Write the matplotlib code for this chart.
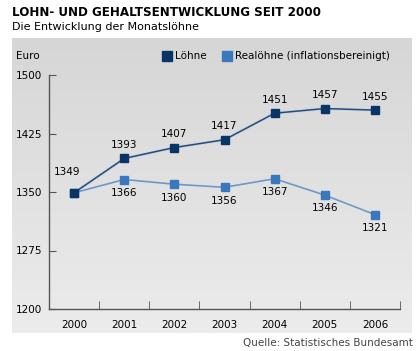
import matplotlib.pyplot as plt
import numpy as np

years = ["2000", "2001", "2002", "2003", "2004", "2005", "2006"]
loehne = [1349, 1393, 1407, 1417, 1451, 1457, 1455]
realloehne = [1349, 1366, 1360, 1356, 1367, 1346, 1321]
yticks = [1200, 1275, 1350, 1425, 1500]

dark = "#0b3466"
light = "#3a78bd"
W, H = 419, 351

fig = plt.figure(figsize=(W / 100, H / 100), dpi=100)
fig.patch.set_facecolor("white")

# gray panel with soft vertical gradient
bg = fig.add_axes([12 / W, 1 - 333 / H, (411 - 12) / W, (333 - 38) / H])
grad = np.linspace(0, 1, 256).reshape(-1, 1)
bg.imshow(grad, aspect="auto", cmap=plt.matplotlib.colors.LinearSegmentedColormap.from_list(
    "g", ["#d6d6d6", "#ececec"]), extent=[0, 1, 0, 1], origin="upper")
bg.set_axis_off()

ax = fig.add_axes([49 / W, 1 - 309 / H, (400 - 49) / W, (309 - 75) / H])
ax.patch.set_alpha(0)

x = np.arange(len(years))
ax.plot(x, loehne, color="#c8d4e4", lw=2.2, zorder=2)
ax.plot(x, loehne, color="#2a4a75", lw=1.1, zorder=3)
ax.plot(x, realloehne, color="#6f98c8", lw=1.2, zorder=3)
ax.plot(x, realloehne, "s", color=light, ms=6, zorder=4)
ax.plot(x, loehne, "s", color=dark, ms=6, zorder=5)

fs = 7.5
for i, v in enumerate(loehne):
    if i == 0:
        ax.annotate(str(v), (x[i], v), xytext=(-5, 13), textcoords="offset points",
                    ha="center", fontsize=fs)
    else:
        ax.annotate(str(v), (x[i], v), xytext=(0, 6), textcoords="offset points",
                    ha="center", va="bottom", fontsize=fs)
for i, v in enumerate(realloehne):
    if i == 0:
        continue
    ax.annotate(str(v), (x[i], v), xytext=(0, -6), textcoords="offset points",
                ha="center", va="top", fontsize=fs)

ax.set_xlim(-0.5, 6.5)
ax.set_ylim(1200, 1500)
ax.set_yticks(yticks)
ax.set_yticklabels([str(t) for t in yticks], fontsize=fs)
ax.set_xticks(x)
ax.set_xticklabels(years, fontsize=fs)
ax.set_xticks(np.arange(0.5, 7, 1), minor=True)
ax.tick_params(axis="x", which="major", length=0, pad=8)
ax.tick_params(axis="x", which="minor", direction="in", length=6, color="#555555")
ax.tick_params(axis="y", direction="in", length=5, color="#555555", pad=5)
for s in ["top", "right"]:
    ax.spines[s].set_visible(False)
for s in ["left", "bottom"]:
    ax.spines[s].set_color("#555555")
    ax.spines[s].set_linewidth(1)

fig.text(12 / W, 1 - 13 / H, "LOHN- UND GEHALTSENTWICKLUNG SEIT 2000",
         fontsize=8.6, fontweight="bold", va="center", ha="left")
fig.text(12 / W, 1 - 27 / H, "Die Entwicklung der Monatslöhne",
         fontsize=8, va="center", ha="left")
fig.text(16 / W, 1 - 56 / H, "Euro", fontsize=fs, va="center")

fig.patches.append(plt.Rectangle((162 / W, 1 - 61 / H), 10 / W, 10 / H,
                                 color=dark, transform=fig.transFigure))
fig.text(175 / W, 1 - 56 / H, "Löhne", fontsize=fs, va="center")
fig.patches.append(plt.Rectangle((222 / W, 1 - 61 / H), 10 / W, 10 / H,
                                 color=light, transform=fig.transFigure))
fig.text(235 / W, 1 - 56 / H, "Realöhne (inflationsbereinigt)", fontsize=fs,
         va="center")

fig.text(413 / W, 1 - 343 / H, "Quelle: Statistisches Bundesamt", fontsize=fs,
         va="center", ha="right", color="#444444")

fig.savefig("out.png", dpi=100)
